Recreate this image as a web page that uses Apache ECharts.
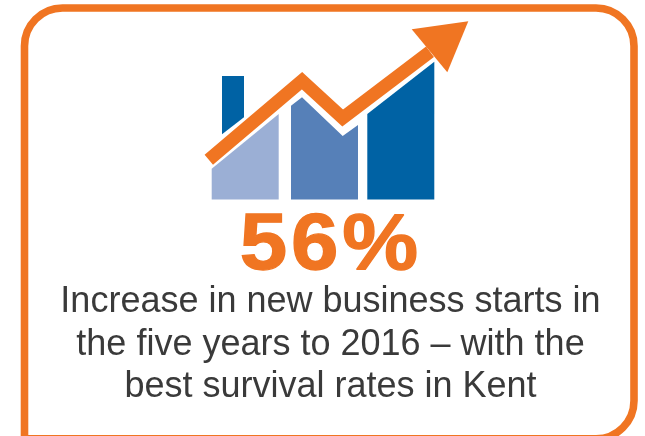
<!DOCTYPE html>
<html><head><meta charset="utf-8">
<style>html,body{margin:0;padding:0;background:#fff}#c{width:645px;height:436px}</style>
<script src="https://cdn.jsdelivr.net/npm/echarts@6/dist/echarts.min.js"></script>
</head><body><div id="c"></div>
<script>
// Values, in the hidden scale of the chart
const barLeft  = [211.7, 291, 367.3];
const barRight = [278.7, 358, 434.3];
const barBase  = [199.5, 199.5, 199.5];
const barTops  = [
  [[211.7,168.7],[278.7,114]],
  [[291,105.7],[302,97.3],[342.7,136],[358,125]],
  [[367.3,114],[434.3,61.7]]
];
const barColors = ['#9BAFD5','#5680B8','#0062A4'];
const chimney = [[222,76],[244,76],[244,117.3],[222,134.3]];
const trend = [[208.8,159.7],[302,80.7],[342.7,118],[430,51.7]];
const arrowHead = [[468.3,21.3],[411.7,29.3],[447.3,72.3]];
const captionLines = ['Increase in new business starts in','the five years to 2016 – with the','best survival rates in Kent'];

const ORANGE = '#F07522';
const chart = echarts.init(document.getElementById('c'), null, {renderer:'canvas'});

function polyItem(points, color){
  return (params, api) => ({
    type:'polygon',
    shape:{points:points.map(p => api.coord(p))},
    style:{fill:color}
  });
}
const barSeries = barLeft.map((l,i) => ({
  type:'custom', coordinateSystem:'cartesian2d', silent:true,
  data:[[l,barBase[i]]],
  renderItem:polyItem([[l,barBase[i]],...barTops[i],[barRight[i],barBase[i]]], barColors[i]),
  z:2
}));
const headStyle = {fill:ORANGE,stroke:ORANGE,lineWidth:1.3,fontFamily:'Liberation Sans',fontWeight:'bold',fontSize:79};

chart.setOption({
  animation:false,
  backgroundColor:'#fff',
  grid:{left:0,right:0,top:0,bottom:0},
  xAxis:{type:'value',min:0,max:645,show:false},
  yAxis:{type:'value',min:0,max:436,inverse:true,show:false},
  series:[
    ...barSeries,
    {type:'custom',silent:true,data:[chimney[0]],renderItem:polyItem(chimney,'#0062A4'),z:2},
    {type:'line',silent:true,data:trend,symbol:'none',z:3,
      lineStyle:{color:ORANGE,width:13,cap:'butt',join:'miter',miterLimit:10}},
    {type:'custom',silent:true,data:[arrowHead[0]],renderItem:polyItem(arrowHead,ORANGE),z:4}
  ],
  graphic:[
    {type:'rect',z:1,shape:{x:24.5,y:8,width:609.5,height:430.8,r:[38,38,38,0]},
     style:{fill:'none',stroke:ORANGE,lineWidth:7.6}},
    {type:'text',z:5,x:329,y:247,scaleX:1.08,
     style:{text:'{d|5}{d|6}{p|%}',textAlign:'center',textVerticalAlign:'middle',
       rich:{d:{...headStyle,padding:[0,3.5,0,0]},p:headStyle}}},
    ...captionLines.map((t,i)=>({type:'text',z:5,x:330.5,y:[302,345,387][i],
     style:{text:t,fill:'#3a3a3a',font:'36px "Liberation Sans"',textAlign:'center',textVerticalAlign:'middle'}}))
  ]
});
</script></body></html>
